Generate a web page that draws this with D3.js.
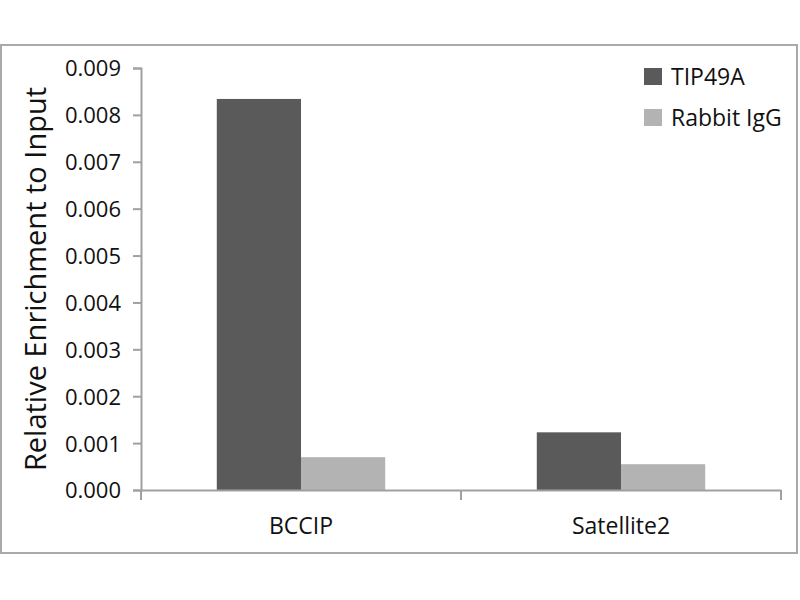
<!DOCTYPE html>
<html>
<head>
<meta charset="utf-8">
<script src="https://cdn.jsdelivr.net/npm/d3@7"></script>
<style>
  body { margin: 0; background: #fff; }
  text { font-family: "Open Sans", sans-serif; fill: #111; }
</style>
</head>
<body>
<div id="chart"></div>
<script>
var categories = ["BCCIP", "Satellite2"];
var seriesNames = ["TIP49A", "Rabbit IgG"];
var tip49aValues = [0.00834, 0.00123];
var iggValues = [0.00070, 0.00055];
var yTicks = [0, 0.001, 0.002, 0.003, 0.004, 0.005, 0.006, 0.007, 0.008, 0.009];
var colors = ["#5a5a5a", "#b3b3b3"];

function drawChart() {
    var width = 800;
    var height = 600;

    var margin = { top: 68, left: 141, right: 19, bottom: 110 };

    var svg = d3.select("#chart").append("svg")
        .attr("width", width)
        .attr("height", height);

    // outer frame
    svg.append("rect")
        .attr("x", 1)
        .attr("y", 45)
        .attr("width", 796)
        .attr("height", 508)
        .attr("fill", "none")
        .attr("stroke", "#a9a9a9")
        .attr("stroke-width", 2);

    var x = d3.scaleBand()
        .domain(categories)
        .range([margin.left, width - margin.right])
        .paddingInner(0)
        .paddingOuter(0);

    var inner = d3.scaleBand()
        .domain(seriesNames)
        .range([0, x.bandwidth()])
        .paddingOuter(0.9)
        .paddingInner(0);

    var y = d3.scaleLinear()
        .domain([0, 0.009])
        .range([height - margin.bottom, margin.top]);

    var rows = categories.map(function(c, i) {
        return { cat: c, values: [tip49aValues[i], iggValues[i]] };
    });

    var groups = svg.selectAll(".grp")
        .data(rows)
        .enter().append("g")
        .attr("transform", function(d) { return "translate(" + x(d.cat) + ",0)"; });

    groups.selectAll("rect")
        .data(function(d) { return d.values.map(function(v, i) { return { s: seriesNames[i], v: v, i: i }; }); })
        .enter().append("rect")
        .attr("x", function(d) { return inner(d.s); })
        .attr("width", inner.bandwidth())
        .attr("y", function(d) { return y(d.v); })
        .attr("height", function(d) { return y(0) - y(d.v); })
        .attr("fill", function(d) { return colors[d.i]; });

    // y axis
    var yAxis = svg.append("g")
        .attr("transform", "translate(" + margin.left + ",0)")
        .call(d3.axisLeft(y).tickValues(yTicks).tickFormat(d3.format(".3f")).tickSize(8).tickPadding(12));
    yAxis.selectAll("text").style("font-size", "22px").attr("dy", "0.36em");

    // x axis
    var xAxis = svg.append("g")
        .attr("transform", "translate(0," + y(0) + ")")
        .call(d3.axisBottom(x).tickValues([]).tickSizeOuter(0));
    xAxis.selectAll(".tick").remove();

    var bounds = [margin.left, x("Satellite2"), width - margin.right];
    xAxis.selectAll(".sep")
        .data(bounds)
        .enter().append("line")
        .attr("x1", function(d) { return d; })
        .attr("x2", function(d) { return d; })
        .attr("y1", 0)
        .attr("y2", 10);

    svg.selectAll(".domain, .tick line, g line").attr("stroke", "#a0a0a0").attr("stroke-width", 2);

    svg.selectAll(".catlab")
        .data(categories)
        .enter().append("text")
        .attr("x", function(d) { return x(d) + x.bandwidth() / 2; })
        .attr("y", 534)
        .attr("text-anchor", "middle")
        .style("font-size", "23px")
        .text(function(d) { return d; });

    // y axis title
    svg.append("text")
        .attr("transform", "translate(46," + (y(0) + y(0.009)) / 2 + ") rotate(-90)")
        .attr("text-anchor", "middle")
        .style("font-size", "29px")
        .text("Relative Enrichment to Input");

    // legend
    var legend = svg.selectAll(".leg")
        .data(seriesNames)
        .enter().append("g")
        .attr("transform", function(d, i) { return "translate(644," + (68 + i * 41) + ")"; });

    legend.append("rect")
        .attr("width", 18)
        .attr("height", 17)
        .attr("fill", function(d, i) { return colors[i]; });

    legend.append("text")
        .attr("x", 27)
        .attr("y", 17)
        .style("font-size", "23px")
        .text(function(d) { return d; });
}

drawChart();
</script>
</body>
</html>
